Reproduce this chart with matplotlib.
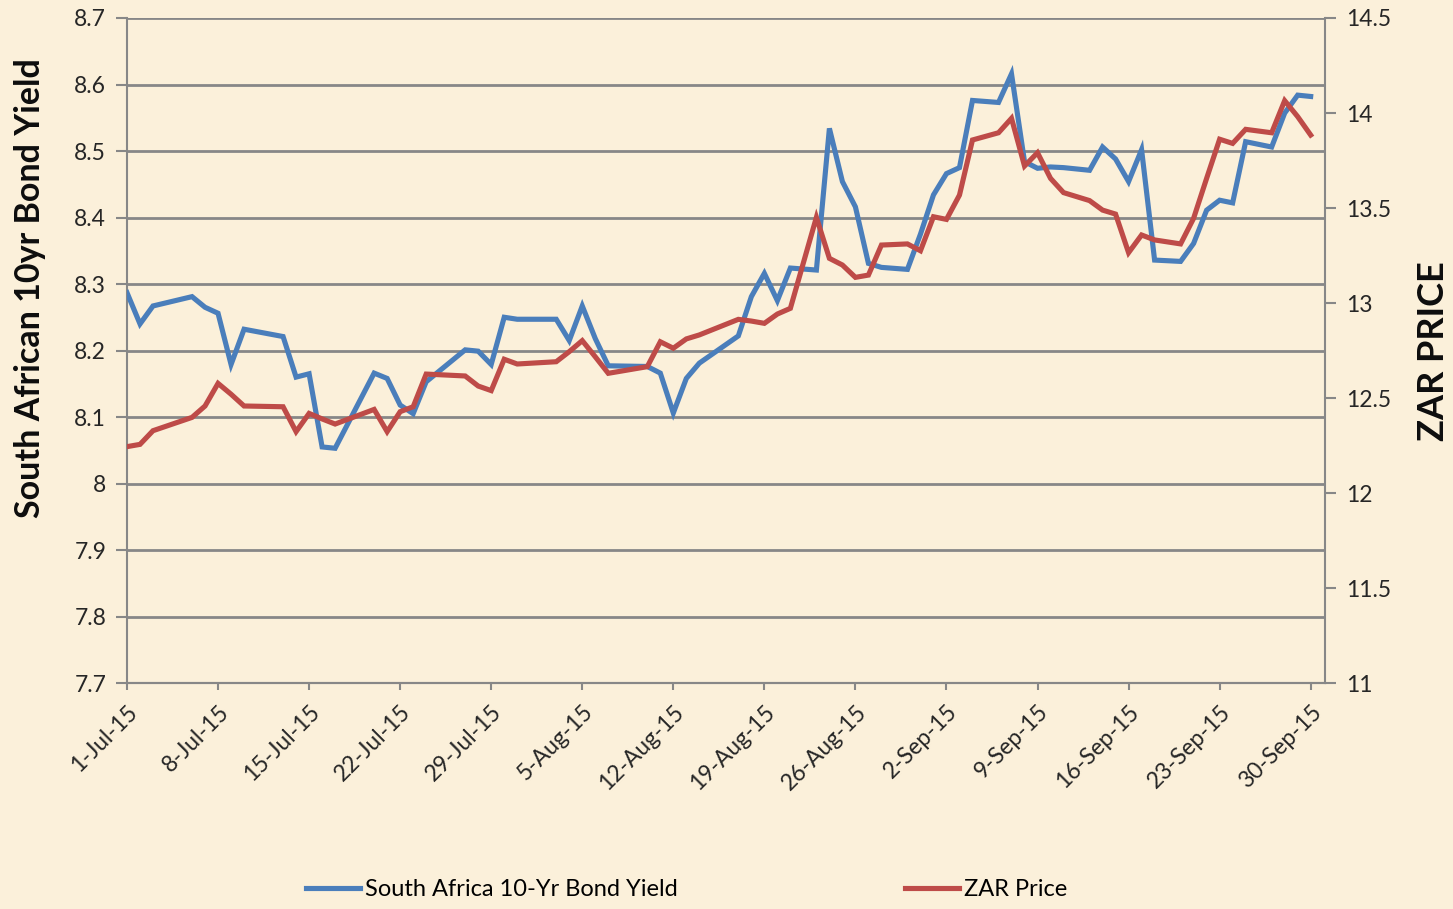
import datetime as dt
import matplotlib
matplotlib.use("Agg")
import matplotlib.pyplot as plt
import matplotlib.dates as mdates
from matplotlib.ticker import FormatStrFormatter

# day offsets from 1-Jul-2015 for each observation
day_offsets = [0, 1, 2, 5, 6, 7, 8, 9, 12, 13, 14, 15, 16, 19, 20, 21, 22, 23,
	26, 27, 28, 29, 30, 33, 34, 35, 36, 37, 40, 41, 42, 43, 44, 47, 48, 49, 50,
	51, 53, 54, 55, 56, 57, 58, 60, 61, 62, 63, 64, 65, 67, 68, 69, 70, 71, 72,
	74, 75, 76, 77, 78, 79, 81, 82, 83, 84, 85, 86, 88, 89, 90, 91]

bond_yield = [8.287, 8.240, 8.267, 8.281, 8.265, 8.256, 8.179, 8.232, 8.221,
	8.160, 8.165, 8.055, 8.053, 8.166, 8.158, 8.118, 8.105, 8.153, 8.201, 8.199,
	8.179, 8.250, 8.247, 8.247, 8.215, 8.267, 8.218, 8.177, 8.176, 8.166, 8.106,
	8.158, 8.181, 8.222, 8.281, 8.316, 8.275, 8.324, 8.321, 8.534, 8.454, 8.416,
	8.331, 8.325, 8.322, 8.375, 8.434, 8.466, 8.475, 8.576, 8.573, 8.616, 8.484,
	8.474, 8.476, 8.475, 8.471, 8.506, 8.488, 8.454, 8.502, 8.336, 8.334, 8.361,
	8.411, 8.426, 8.422, 8.514, 8.506, 8.557, 8.584, 8.582]

zar_price = [12.244, 12.256, 12.328, 12.398, 12.458, 12.577, 12.520, 12.458,
	12.454, 12.323, 12.419, 12.390, 12.363, 12.440, 12.323, 12.428, 12.454,
	12.626, 12.616, 12.563, 12.539, 12.704, 12.679, 12.691, 12.744, 12.802,
	12.717, 12.630, 12.665, 12.796, 12.762, 12.811, 12.832, 12.914, 12.905,
	12.893, 12.942, 12.972, 13.451, 13.235, 13.200, 13.135, 13.147, 13.305,
	13.311, 13.275, 13.454, 13.440, 13.568, 13.858, 13.896, 13.972, 13.721,
	13.791, 13.656, 13.581, 13.539, 13.489, 13.468, 13.265, 13.358, 13.332,
	13.311, 13.446, 13.656, 13.862, 13.840, 13.914, 13.896, 14.065, 13.981,
	13.884]

start = dt.date(2015, 7, 1)
dates = [start + dt.timedelta(days=d) for d in day_offsets]
tick_dates = [start + dt.timedelta(days=7 * i) for i in range(14)]

left_ticks = [7.7, 7.8, 7.9, 8.0, 8.1, 8.2, 8.3, 8.4, 8.5, 8.6, 8.7]
right_ticks = [11, 11.5, 12, 12.5, 13, 13.5, 14, 14.5]

bg = "#FBF0DA"
blue = "#4A7EBB"
red = "#BE4B48"
grey = "#878787"

plt.rcParams["font.family"] = ["Lato", "DejaVu Sans"]

fig = plt.figure(figsize=(14.53, 9.09), dpi=100, facecolor=bg)
ax = fig.add_axes([0.0874, 0.2486, 0.8245, 0.7316])
ax.set_facecolor(bg)
ax2 = ax.twinx()

l1, = ax.plot(dates, bond_yield, color=blue, lw=3.7, solid_joinstyle="miter",
	label="South Africa 10-Yr Bond Yield", zorder=3)
l2, = ax2.plot(dates, zar_price, color=red, lw=3.7, solid_joinstyle="miter",
	label="ZAR Price", zorder=3)

ax.set_ylim(7.7, 8.7)
ax2.set_ylim(11, 14.5)
ax.set_yticks(left_ticks)
ax2.set_yticks(right_ticks)
ax.yaxis.set_major_formatter(FormatStrFormatter("%g"))
ax2.yaxis.set_major_formatter(FormatStrFormatter("%g"))

ax.set_xlim(mdates.date2num(start), mdates.date2num(start) + 92.1)
ax.set_xticks(tick_dates)
ax.xaxis.set_major_formatter(mdates.DateFormatter("%-d-%b-%y"))
for lab in ax.get_xticklabels():
	lab.set_rotation(45)
	lab.set_ha("right")
	lab.set_rotation_mode("anchor")

ax.grid(axis="y", color=grey, lw=2)
ax.set_axisbelow(True)

for a in (ax, ax2):
	for s in a.spines.values():
		s.set_color(grey)
		s.set_linewidth(1.5)
	a.spines["top"].set_visible(False)
	a.tick_params(colors=grey, width=1.5, labelsize=16.5, labelcolor="#262626")
ax2.spines["left"].set_visible(False)
ax.spines["right"].set_visible(False)
ax.tick_params(axis="x", length=5, pad=8)
ax.tick_params(axis="y", length=8, pad=7)
ax2.tick_params(axis="y", length=8, pad=7)

ax.set_ylabel("South African 10yr Bond Yield", fontsize=24.5, fontweight="bold",
	color="#0d0d0d")
ax.yaxis.set_label_coords(-0.068, 0.594)
ax2.set_ylabel("ZAR PRICE", fontsize=26, fontweight="bold", color="#0d0d0d",
	rotation=90)
ax2.yaxis.set_label_coords(1.077, 0.499)

fig.legend(handles=[l1, l2], loc="center", bbox_to_anchor=(0.4725, 0.021), ncol=2,
	frameon=False, fontsize=17, handlelength=2.3, handletextpad=0.2,
	columnspacing=9.6)

fig.savefig("out.png", dpi=100, facecolor=bg)
